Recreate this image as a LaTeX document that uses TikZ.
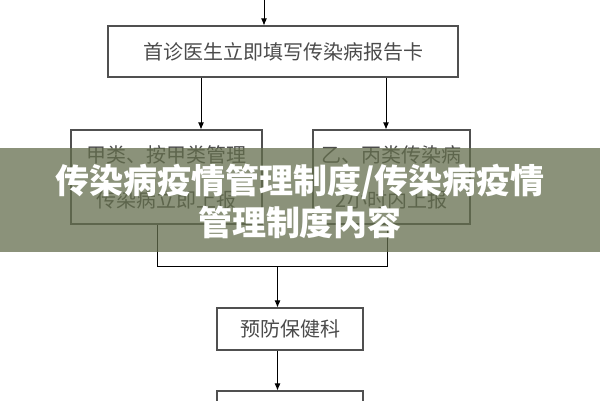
\documentclass[tikz,border=0pt]{standalone}
\usepackage{fontspec}
\setmainfont{Noto Sans CJK SC}
\newfontfamily\titlefont{Noto Sans CJK SC Black}
\usetikzlibrary{arrows.meta}
\definecolor{boxline}{RGB}{80,80,80}
\definecolor{boxtext}{RGB}{75,75,75}
\definecolor{banner}{RGB}{100,110,77}

\begin{document}
\begin{tikzpicture} [
    x = 1pt, y = -1pt,
    nodestyle/.style = {draw=boxline,
                        line width=1.1pt,
                        inner sep=0pt,
                        align=center,
                        text=boxtext,
                        font=\fontsize{20}{45}\selectfont},
    arr/.style       = {line width=0.9pt,
                        -{Latex[length=7pt,width=6pt]}},
    joint/.style     = {line width=0.9pt},
    titlestyle/.style = {text=white,
                        align=center,
                        font=\titlefont\fontsize{34}{42}\selectfont}
]
\useasboundingbox (0,0) rectangle (600,400);
\clip (0,0) rectangle (600,400);

\node (report) [nodestyle, minimum width=350pt, minimum height=51pt] at (283,51.5) {首诊医生立即填写传染病报告卡};
\node (classA) [nodestyle, minimum width=191pt, minimum height=94pt] at (166.5,177) {
甲类、按甲类管理 \\
传染病立即上报
};
\node (classB) [nodestyle, minimum width=157pt, minimum height=94pt] at (391.5,177) {
乙、丙类传染病 \\
2小时内上报
};
\node (prevent) [nodestyle, minimum width=146pt, minimum height=42pt] at (290,329) {预防保健科};
\node (nextstep) [nodestyle, minimum width=146pt, minimum height=42pt] at (290,412) {};

\coordinate (top) at (264,0);
\coordinate (colA) at (201,0);
\coordinate (colB) at (386,0);
\coordinate (jl) at (157,266);
\coordinate (jr) at (387,266);
\coordinate (jm) at (277.5,266);

\draw[arr] (top) -- (top |- report.north);
\draw[arr] (report.south -| colA) -- (classA.north -| colA);
\draw[arr] (report.south -| colB) -- (classB.north -| colB);
\draw[joint] (classA.south -| jl) -- (jl) -- (jr) -- (classB.south -| jr);
\draw[arr] (jm) -- (jm |- prevent.north);
\draw[arr] (prevent.south -| jm) -- (nextstep.north -| jm);

% banner over the chart
\fill[banner, fill opacity=0.75] (0,148) rectangle (600,252);
\node (title) [titlestyle] at (300,201) {
传染病疫情管理制度/传染病疫情 \\
管理制度内容
};
\end{tikzpicture}
\end{document}
